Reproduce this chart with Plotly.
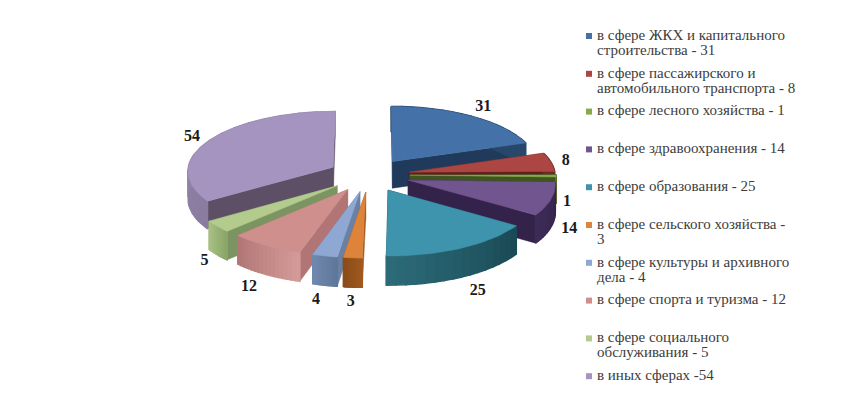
import numpy as np
import plotly.graph_objects as go

# values, clockwise from 12 o'clock
values = [31, 8, 1, 14, 25, 3, 4, 12, 5, 54]
legend_lines = [
    ["в сфере ЖКХ и капитального", "строительства - 31"],
    ["в сфере пассажирского и", "автомобильного транспорта - 8"],
    ["в сфере лесного хозяйства - 1"],
    ["в сфере здравоохранения - 14"],
    ["в сфере образования - 25"],
    ["в сфере сельского хозяйства -", "3"],
    ["в сфере культуры и архивного", "дела - 4"],
    ["в сфере спорта и туризма - 12"],
    ["в сфере социального", "обслуживания - 5"],
    ["в иных сферах -54"],
]

top_colors = ["#4472a8", "#ab4642", "#88a84a", "#71558f", "#3f94ad",
              "#dd843a", "#8ea8d3", "#cf8f8d", "#b3cb8c", "#a594bf"]
cut_colors = ["#1f3a5a", "#5c1f1c", "#3f5520", "#33234a", "#1d4a55",
              "#a05a20", "#6a81a5", "#b07574", "#7c9462", "#5c4f66"]
wall_colors = [("#27476b", "#27476b"), ("#6e2a27", "#6e2a27"), ("#55702c", "#55702c"),
               ("#33234a", "#3d2c57"), ("#1a4a55", "#2c6a78"), ("#a05a20", "#8c4c1a"),
               ("#5f7799", "#6f88ad"), ("#d39a98", "#b27876"), ("#8aa568", "#a6bf82"),
               ("#8a7ca0", "#9a8bb3")]
# nudges for the value labels, relative to the middle of each outer rim
label_nudge = [(12, -9), (15, -1), (11, 26), (18, 30), (16, 43),
               (-2, 44), (-9, 44), (-17, 41), (-13, 35), (-18, -3)]

CX, CY = 369, 175
RX, RY = 146, 60
DEPTH = 27
PULL = 0.28
PERSP = 0.06


def project(theta, r, off=(0.0, 0.0), drop=0.0):
    # disc coordinates -> screen, theta clockwise from the far side
    dx = r * np.sin(theta) + off[0]
    dy = r * np.cos(theta) + off[1]
    s = 1 / (1 + PERSP * dy)
    return CX + RX * dx * s, CY - RY * dy * s + drop * s


def mix(c1, c2, t):
    a = [int(c1[i:i + 2], 16) for i in (1, 3, 5)]
    b = [int(c2[i:i + 2], 16) for i in (1, 3, 5)]
    return "rgb(%d,%d,%d)" % tuple(round(x + (y - x) * t) for x, y in zip(a, b))


fig = go.Figure()


def poly(x, y, color, width=0.5):
    fig.add_trace(go.Scatter(x=x, y=y, mode="lines", fill="toself", fillcolor=color,
                             line=dict(color=color, width=width), hoverinfo="skip", showlegend=False))


edges = np.cumsum([0] + values) / sum(values) * 2 * np.pi
slices = []
for i in range(len(values)):
    mid = (edges[i] + edges[i + 1]) / 2
    slices.append((i, edges[i], edges[i + 1], mid, (PULL * np.sin(mid), PULL * np.cos(mid))))

# far slices first so that the near ones paint over them
for i, a0, a1, mid, off in sorted(slices, key=lambda s: -(np.cos(s[3]))):
    n = max(6, int((a1 - a0) * 30))
    th = np.linspace(a0, a1, n)
    tip = project(0, 0, off)
    tip_low = project(0, 0, off, DEPTH)
    for a in (a0, a1):
        p = project(a, 1, off)
        q = project(a, 1, off, DEPTH)
        poly([tip[0], p[0], q[0], tip_low[0], tip[0]], [tip[1], p[1], q[1], tip_low[1], tip[1]], cut_colors[i])
    steps = np.linspace(a0, a1, 17)
    for k in range(len(steps) - 1):
        seg = np.linspace(steps[k], steps[k + 1], 4)
        up = [project(t, 1, off) for t in seg]
        lo = [project(t, 1, off, DEPTH) for t in seg[::-1]]
        pts = up + lo + up[:1]
        poly([p[0] for p in pts], [p[1] for p in pts], mix(*wall_colors[i], k / 15), 1.5)
    rim = [project(t, 1, off) for t in th]
    pts = [tip] + rim + [tip]
    poly([p[0] for p in pts], [p[1] for p in pts], top_colors[i])

# value labels
lx, ly, lt = [], [], []
for i, a0, a1, mid, off in slices:
    p = project(mid, 1, off)
    lx.append(p[0] + label_nudge[i][0])
    ly.append(p[1] + label_nudge[i][1])
    lt.append(str(values[i]))
fig.add_trace(go.Scatter(x=lx, y=ly, mode="text", text=lt, hoverinfo="skip", showlegend=False,
                         textfont=dict(family="Liberation Serif", size=16, color="#1a1a1a", weight="bold")))

# legend on the right, evenly stepped
sx, sy, tx, ty, tt = [], [], [], [], []
for i, lines in enumerate(legend_lines):
    y0 = 36 + 37.8 * i
    sx.append(589)
    sy.append(y0)
    for j, line in enumerate(lines):
        tx.append(597)
        ty.append(y0 + 15 * j)
        tt.append(line)
fig.add_trace(go.Scatter(x=sx, y=sy, mode="markers", hoverinfo="skip", showlegend=False,
                         marker=dict(symbol="square", size=6, color=top_colors)))
fig.add_trace(go.Scatter(x=tx, y=ty, mode="text", text=tt, textposition="middle right", hoverinfo="skip",
                         showlegend=False, textfont=dict(family="Liberation Serif", size=15, color="#3c3c3c")))

fig.update_layout(width=862, height=417, margin=dict(l=0, r=0, t=0, b=0),
                  paper_bgcolor="white", plot_bgcolor="white", showlegend=False,
                  xaxis=dict(range=[0, 862], visible=False, fixedrange=True),
                  yaxis=dict(range=[417, 0], visible=False, fixedrange=True))
fig.write_html("out.html", config={"displayModeBar": False},
               post_script="document.body.style.margin='0';")
